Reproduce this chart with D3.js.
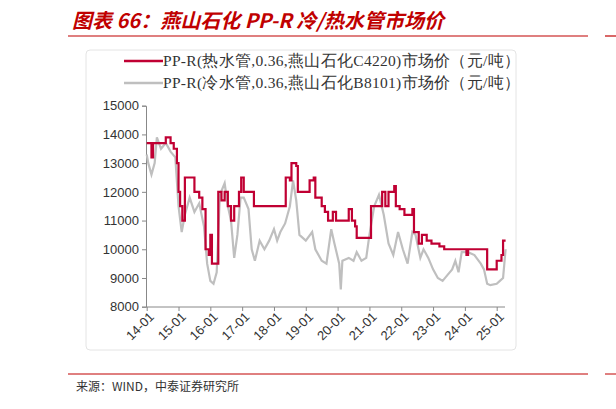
<!DOCTYPE html>
<html><head><meta charset="utf-8">
<script src="https://cdn.jsdelivr.net/npm/d3@7"></script>
<style>body{margin:0;background:#fff;font-family:"Noto Sans CJK SC",sans-serif}</style>
</head><body><div id="chart"></div>
<script>
var hotSeries = [[2014.0,13700],[2014.15,13200],[2014.2,13700],[2014.55,13700],[2014.6,13900],[2014.75,13700],[2014.85,13500],[2014.95,13000],[2015.0,12000],[2015.05,11500],[2015.12,11000],[2015.2,12500],[2015.45,12500],[2015.5,12000],[2015.65,11800],[2015.75,11400],[2015.85,10000],[2015.95,9800],[2016.0,10500],[2016.05,9500],[2016.2,9500],[2016.25,12000],[2016.35,11700],[2016.45,12000],[2016.55,11500],[2016.65,11000],[2016.75,11500],[2016.9,12000],[2016.97,12500],[2017.05,12000],[2017.35,12000],[2017.37,11500],[2018.35,11500],[2018.37,12500],[2018.5,12400],[2018.55,13000],[2018.7,12900],[2018.75,12000],[2019.1,12000],[2019.12,12400],[2019.25,12500],[2019.3,11800],[2019.5,11500],[2019.6,11300],[2019.7,11000],[2019.85,11300],[2019.95,11000],[2020.3,11000],[2020.35,11400],[2020.45,11000],[2020.55,10800],[2020.6,10400],[2020.9,10400],[2021.05,11500],[2021.4,12000],[2021.5,11500],[2021.6,12000],[2021.78,12200],[2021.83,11500],[2021.95,11400],[2022.1,11200],[2022.35,11400],[2022.4,10600],[2022.55,10200],[2022.65,10500],[2022.8,10300],[2022.95,10200],[2023.2,10100],[2023.35,10000],[2024.0,10000],[2024.05,9800],[2024.1,10000],[2024.65,10000],[2024.7,9300],[2024.95,9300],[2025.0,9600],[2025.15,9800],[2025.2,10300],[2025.28,10300]];
var coldSeries = [[2014.0,13300],[2014.05,13000],[2014.15,12600],[2014.25,13000],[2014.32,13900],[2014.45,13500],[2014.6,13700],[2014.75,13400],[2014.9,13200],[2015.0,11500],[2015.1,10600],[2015.2,11200],[2015.35,11800],[2015.5,11300],[2015.65,11600],[2015.8,10800],[2015.9,9500],[2016.0,8900],[2016.1,8800],[2016.2,9200],[2016.3,11900],[2016.45,12300],[2016.55,11500],[2016.65,11000],[2016.75,9700],[2016.85,10500],[2016.95,11800],[2017.05,11800],[2017.2,11400],[2017.3,10000],[2017.4,9600],[2017.55,10300],[2017.7,10000],[2017.85,10300],[2018.0,10700],[2018.1,10300],[2018.2,10600],[2018.35,10900],[2018.5,11500],[2018.6,12400],[2018.7,11700],[2018.8,10500],[2019.0,10300],[2019.2,10600],[2019.3,10000],[2019.5,9600],[2019.65,9500],[2019.8,10700],[2019.9,10200],[2020.05,9500],[2020.1,8600],[2020.15,9600],[2020.35,9700],[2020.5,9600],[2020.6,9900],[2020.75,9600],[2020.9,9700],[2021.0,10500],[2021.15,11500],[2021.3,11900],[2021.45,11200],[2021.6,10200],[2021.75,9800],[2021.9,10600],[2022.05,10000],[2022.2,9500],[2022.35,10600],[2022.45,10500],[2022.6,9700],[2022.7,10000],[2022.85,9700],[2023.0,9300],[2023.15,9000],[2023.3,8900],[2023.45,9100],[2023.6,9300],[2023.7,9600],[2023.8,9200],[2023.9,9900],[2024.1,9900],[2024.3,9800],[2024.5,9500],[2024.6,9300],[2024.7,8800],[2024.8,8750],[2025.0,8800],[2025.1,8900],[2025.2,9000],[2025.28,10000]];
var yTicks = [8000,9000,10000,11000,12000,13000,14000,15000];
var xTicks = d3.range(2014, 2026);
var legendNames = ["PP-R(热水管,0.36,燕山石化C4220)市场价（元/吨）","PP-R(冷水管,0.36,燕山石化B8101)市场价（元/吨）"];

var svg = d3.select("#chart").append("svg").attr("width",616).attr("height",409);
var x = d3.scaleLinear().domain([2014,2025]).range([146.7,496.7]);
var y = d3.scaleLinear().domain([8000,15000]).range([306.7,105.7]);

// title
svg.append("text").attr("x",72).attr("y",28).attr("fill","#c00000")
  .attr("font-size",20).attr("font-weight","bold").attr("font-style","italic")
  .text("图表 66：燕山石化 PP-R 冷/热水管市场价");
svg.append("line").attr("x1",68).attr("x2",588).attr("y1",36).attr("y2",36).attr("stroke","#c00000").attr("stroke-width",1.2);
svg.append("line").attr("x1",605).attr("x2",616).attr("y1",36).attr("y2",36).attr("stroke","#c00000").attr("stroke-width",1.2);
svg.append("rect").attr("x",86).attr("y",50).attr("width",430).attr("height",300).attr("rx",4)
  .attr("fill","none").attr("stroke","#e4e4e4");

// axes
var ya = svg.append("g").attr("transform","translate(146,0)")
  .call(d3.axisLeft(y).tickValues(yTicks).tickSize(4).tickFormat(d3.format("d")));
var xa = svg.append("g").attr("transform","translate(0,307)")
  .call(d3.axisBottom(x).tickValues(xTicks.slice(0,12)).tickSize(4).tickFormat(function(d){return String(d).slice(2)+"-01";}));
xa.select(".domain").attr("d","M146,0H505");
[ya,xa].forEach(function(a){a.selectAll("path,line").attr("stroke","#888");a.selectAll("text").attr("font-family","Arial, Liberation Sans").attr("font-size",13).attr("fill","#333");});
xa.selectAll(".tick").filter(function(d){return d>2025;}).remove();
xa.selectAll("text").attr("text-anchor","end").attr("transform","rotate(-45)").attr("dx","-2").attr("dy","6");

var line = d3.line().x(function(d){return x(d[0]);}).y(function(d){return y(d[1]);});
svg.append("path").datum(coldSeries).attr("d",line.curve(d3.curveLinear)).attr("fill","none").attr("stroke","#bfbfbf").attr("stroke-width",2.2);
svg.append("path").datum(hotSeries).attr("d",line.curve(d3.curveStepAfter)).attr("fill","none").attr("stroke","#c00033").attr("stroke-width",2.2);

// legend
var colors = ["#c00033","#bfbfbf"];
legendNames.forEach(function(n,i){
  var ly = 61 + i*22;
  svg.append("line").attr("x1",124).attr("x2",163).attr("y1",ly).attr("y2",ly).attr("stroke",colors[i]).attr("stroke-width",2.5);
  svg.append("text").attr("x",163).attr("y",ly+5).attr("font-size",15.5).attr("fill","#333")
    .attr("font-family","Liberation Serif, serif").attr("textLength",357).text(n);
});

// source
svg.append("line").attr("x1",68).attr("x2",588).attr("y1",374).attr("y2",374).attr("stroke","#c00000").attr("stroke-width",1);
svg.append("line").attr("x1",605).attr("x2",616).attr("y1",374).attr("y2",374).attr("stroke","#c00000").attr("stroke-width",1);
svg.append("text").attr("x",76).attr("y",391).attr("font-size",12).attr("fill","#333").text("来源：WIND，中泰证券研究所");
</script></body></html>
